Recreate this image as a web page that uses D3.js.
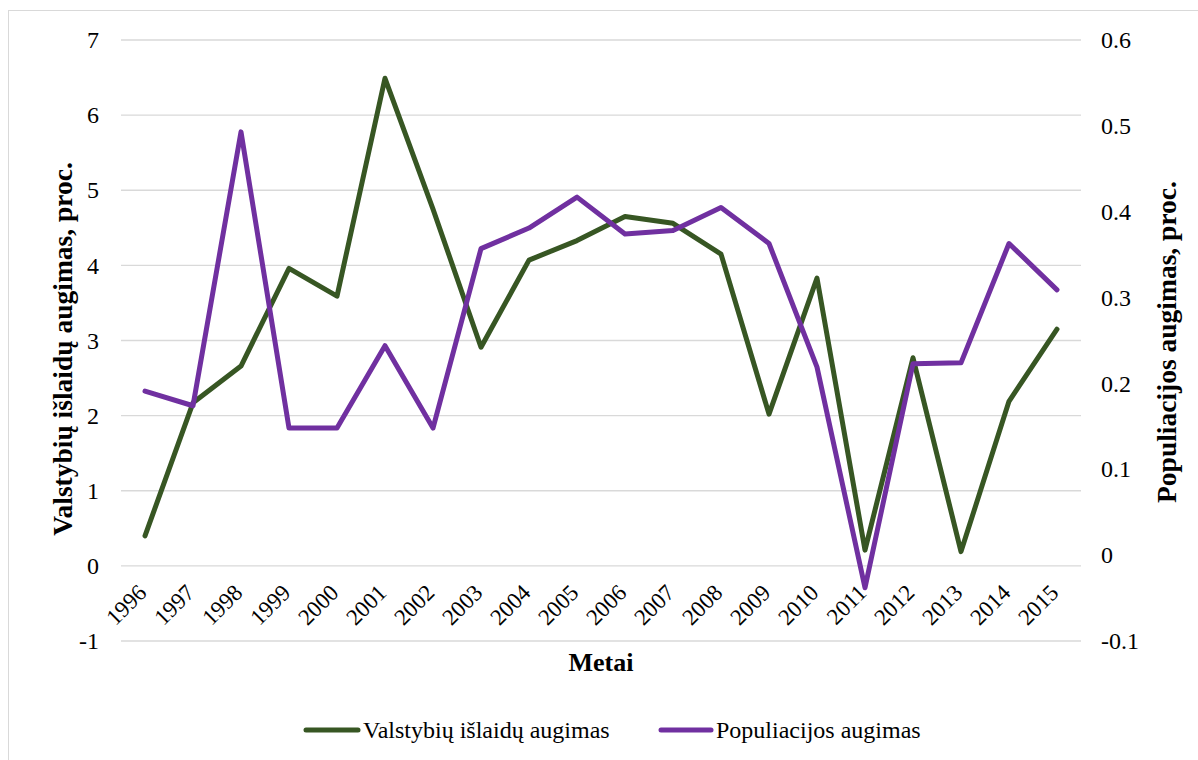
<!DOCTYPE html>
<html>
<head>
<meta charset="utf-8">
<script src="https://cdn.jsdelivr.net/npm/d3@7"></script>
<style>
  body { margin: 0; background: #fff; }
  svg text { font-family: 'Liberation Serif', 'Times New Roman', Times, 'DejaVu Serif', serif !important; fill: #000; }
</style>
</head>
<body>
<div id="chart_div"></div>
<script>
var years = [1996, 1997, 1998, 1999, 2000, 2001, 2002, 2003, 2004, 2005,
             2006, 2007, 2008, 2009, 2010, 2011, 2012, 2013, 2014, 2015];
var spendingGrowth = [0.40, 2.17, 2.66, 3.96, 3.59, 6.49, 4.75, 2.91, 4.07, 4.33,
                      4.65, 4.56, 4.15, 2.02, 3.83, 0.21, 2.77, 0.19, 2.19, 3.15];
var populationGrowth = [0.191, 0.174, 0.493, 0.148, 0.148, 0.244, 0.148, 0.357, 0.381, 0.417,
                        0.374, 0.378, 0.405, 0.363, 0.219, -0.038, 0.223, 0.224, 0.363, 0.309];
var leftTicks = [-1, 0, 1, 2, 3, 4, 5, 6, 7];
var rightTicks = [-0.1, 0, 0.1, 0.2, 0.3, 0.4, 0.5, 0.6];
var seriesNames = ['Valstybių išlaidų augimas', 'Populiacijos augimas'];
var seriesColors = ['#375623', '#7030a0'];

function draw_chart() {
    var width = 1198, height = 760;
    var plot = {left: 121, right: 1081, top: 40, bottom: 641};

    var svg = d3.select('#chart_div')
        .append('svg')
        .attr('width', width)
        .attr('height', height);

    // chart frame
    svg.append('rect')
        .attr('x', 8.5).attr('y', 10.5)
        .attr('width', 1200).attr('height', 760)
        .attr('fill', 'none')
        .attr('stroke', '#d9d9d9');

    var x = d3.scalePoint()
        .domain(years)
        .range([145, 1057]);
    var yLeft = d3.scaleLinear().domain([-1, 7]).range([plot.bottom, plot.top]);
    var yRight = d3.scaleLinear().domain([-0.1, 0.6]).range([plot.bottom, plot.top]);

    // gridlines
    svg.append('g')
        .selectAll('line')
        .data(leftTicks)
        .enter()
        .append('line')
        .attr('x1', plot.left).attr('x2', plot.right)
        .attr('y1', d => yLeft(d)).attr('y2', d => yLeft(d))
        .attr('stroke', '#d9d9d9')
        .attr('stroke-width', 1.3);

    // left axis (plain hyphen for negatives, like the original)
    var leftAxis = svg.append('g')
        .attr('transform', `translate(${plot.left}, 0)`)
        .call(d3.axisLeft(yLeft).tickValues(leftTicks).tickSize(0).tickPadding(22).tickFormat(d => String(d)));
    leftAxis.select('.domain').remove();
    leftAxis.selectAll('text').style('font-size', '24px');

    // right axis
    var rightAxis = svg.append('g')
        .attr('transform', `translate(${plot.right}, 0)`)
        .call(d3.axisRight(yRight).tickValues(rightTicks).tickSize(0).tickPadding(20).tickFormat(d => String(+d.toFixed(1))));
    rightAxis.select('.domain').remove();
    rightAxis.selectAll('text').style('font-size', '24px');

    // x labels
    svg.append('g')
        .selectAll('text')
        .data(years)
        .enter()
        .append('text')
        .attr('transform', d => `translate(${x(d) + 3}, 594) rotate(-45)`)
        .style('text-anchor', 'end')
        .style('font-size', '23px')
        .text(d => d);

    // axis titles
    svg.append('text')
        .attr('transform', `translate(72, 349) rotate(-90)`)
        .style('text-anchor', 'middle')
        .style('font-weight', 700)
        .style('font-size', '27.5px')
        .text('Valstybių išlaidų augimas, proc.');

    svg.append('text')
        .attr('transform', `translate(1176, 342) rotate(-90)`)
        .style('text-anchor', 'middle')
        .style('font-weight', 700)
        .style('font-size', '27.5px')
        .text('Populiacijos augimas, proc.');

    svg.append('text')
        .attr('x', 601).attr('y', 671)
        .style('text-anchor', 'middle')
        .style('font-weight', 700)
        .style('font-size', '26px')
        .text('Metai');

    // series lines
    var lineLeft = d3.line().x((d, i) => x(years[i])).y(d => yLeft(d));
    var lineRight = d3.line().x((d, i) => x(years[i])).y(d => yRight(d));

    svg.append('path')
        .datum(spendingGrowth)
        .attr('d', lineLeft)
        .attr('fill', 'none')
        .attr('stroke', seriesColors[0])
        .attr('stroke-width', 5)
        .attr('stroke-linejoin', 'round')
        .attr('stroke-linecap', 'round');

    svg.append('path')
        .datum(populationGrowth)
        .attr('d', lineRight)
        .attr('fill', 'none')
        .attr('stroke', seriesColors[1])
        .attr('stroke-width', 5)
        .attr('stroke-linejoin', 'round')
        .attr('stroke-linecap', 'round');

    // legend
    var legendPos = [{x: 306, tx: 363}, {x: 661, tx: 716}];
    var legend = svg.append('g')
        .selectAll('g')
        .data(seriesNames)
        .enter()
        .append('g');
    legend.append('line')
        .attr('x1', (d, i) => legendPos[i].x)
        .attr('x2', (d, i) => legendPos[i].tx - 5)
        .attr('y1', 730).attr('y2', 730)
        .attr('stroke', (d, i) => seriesColors[i])
        .attr('stroke-width', 5)
        .attr('stroke-linecap', 'round');
    legend.append('text')
        .attr('x', (d, i) => legendPos[i].tx)
        .attr('y', 738)
        .style('font-size', '24px')
        .text(d => d);
}

document.addEventListener('DOMContentLoaded', draw_chart);
</script>
</body>
</html>
